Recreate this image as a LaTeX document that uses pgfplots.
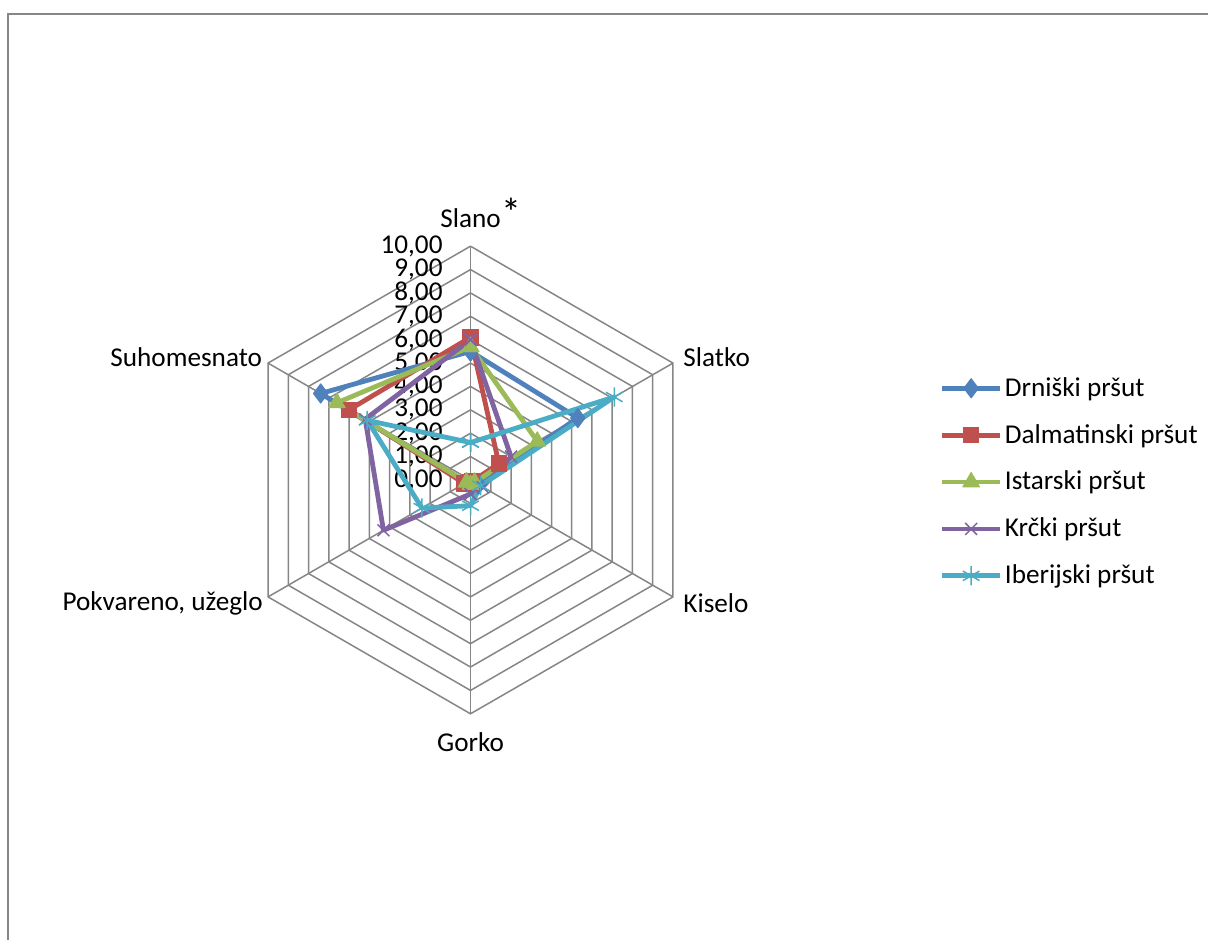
\documentclass[border=0pt]{standalone}
\usepackage{fontspec}
\setmainfont{Carlito}
\usepackage{pgfplots}
\pgfplotsset{compat=1.18}
\definecolor{sblue}{HTML}{4F81BD}
\definecolor{sred}{HTML}{C0504D}
\definecolor{sgreen}{HTML}{9BBB59}
\definecolor{spurple}{HTML}{8064A2}
\definecolor{scyan}{HTML}{4BACC6}
\definecolor{gridc}{HTML}{868686}
\begin{document}
\begin{tikzpicture}[font=\fontsize{13.6}{16.3}\selectfont]
\useasboundingbox (0,0) rectangle (604pt,470pt);
\fill[white] (0,0) rectangle (604pt,470pt);
\draw[gridc, line width=1pt] (4pt,-20pt) rectangle (640pt,463pt);
\begin{axis}[
  at={(106.66pt,101.41pt)}, anchor=south west,
  x=11.69pt, y=11.69pt,
  xmin=-11, xmax=11, ymin=-11, ymax=11,
  enlargelimits=false, hide axis, clip=false,
  legend cell align=left,
  legend style={at={(1.4115,0.496)}, anchor=west, draw=none, fill=none,
    inner sep=0pt, row sep=10.1pt, nodes={inner sep=1.2pt},
    font=\fontsize{13.6}{16.3}\selectfont},
  legend image code/.code={\draw[mark repeat=2,mark phase=2] plot coordinates {(0pt,0pt)(14.5pt,0pt)(29pt,0pt)};},
  every axis plot/.append style={line width=2.4pt, line join=round},
]
% grid rings
\pgfplotsinvokeforeach{1,...,10}{
  \addplot[gridc, line width=0.75pt, line join=miter, forget plot, data cs=polar]
    coordinates {(90,#1)(30,#1)(-30,#1)(-90,#1)(-150,#1)(150,#1)(90,#1)};
}
% spokes
\pgfplotsinvokeforeach{90,30,-30,-90,-150,150}{
  \addplot[gridc, line width=0.75pt, forget plot, data cs=polar]
    coordinates {(#1,0)(#1,10)};
}
% tick labels
\pgfplotsinvokeforeach{0,...,10}{
  \node[anchor=east, inner sep=0pt] at (axis cs:-1.18,#1) {#1,00};
}
% category labels
\node[anchor=base, inner sep=0pt] at (axis cs:0,10.78) {Slano\rlap{\kern0.5pt\raisebox{0.5pt}{\fontsize{20}{20}\selectfont *}}};
\node[anchor=west, inner sep=0pt] at (axis cs:9.09,5.26) {Slatko};
\node[anchor=west, inner sep=0pt] at (axis cs:9.09,-5.26) {Kiselo};
\node[anchor=center, inner sep=0pt] at (axis cs:0,-11.2) {Gorko};
\node[anchor=east, inner sep=0pt] at (axis cs:-8.87,-5.26) {Pokvareno, užeglo};
\node[anchor=east, inner sep=0pt] at (axis cs:-8.9,5.26) {Suhomesnato};
% data: Slano, Slatko, Kiselo, Gorko, Pokvareno, Suhomesnato
\addplot[sblue, data cs=polar, mark=diamond*, mark size=4.8pt,
  mark options={solid, line width=0.5pt, fill=sblue}]
  coordinates {(90,5.5)(30,5.3)(-30,0.4)(-90,0.2)(-150,0.2)(150,7.4)(90,5.5)};
\addlegendentry{Drniški pršut}
\addplot[sred, data cs=polar, mark=square*, mark size=3.9pt,
  mark options={solid, line width=0.5pt, fill=sred}]
  coordinates {(90,6.1)(30,1.4)(-30,0.1)(-90,0.1)(-150,0.3)(150,6.0)(90,6.1)};
\addlegendentry{Dalmatinski pršut}
\addplot[sgreen, data cs=polar, mark=triangle*, mark size=4.8pt,
  mark options={solid, line width=0.5pt, fill=sgreen}]
  coordinates {(90,5.7)(30,3.3)(-30,0.2)(-90,0.2)(-150,0.2)(150,6.6)(90,5.7)};
\addlegendentry{Istarski pršut}
\addplot[spurple, data cs=polar, mark=x, mark size=4.2pt,
  mark options={solid, line width=0.75pt}]
  coordinates {(90,6.0)(30,2.0)(-30,0.6)(-90,0.6)(-150,4.3)(150,5.2)(90,6.0)};
\addlegendentry{Krčki pršut}
\addplot[scyan, data cs=polar, mark=asterisk, mark size=4.8pt,
  mark options={solid, line width=0.75pt}]
  coordinates {(90,1.6)(30,7.1)(-30,0.5)(-90,1.1)(-150,2.4)(150,5.1)(90,1.6)};
\addlegendentry{Iberijski pršut}
\end{axis}
\end{tikzpicture}
\end{document}
